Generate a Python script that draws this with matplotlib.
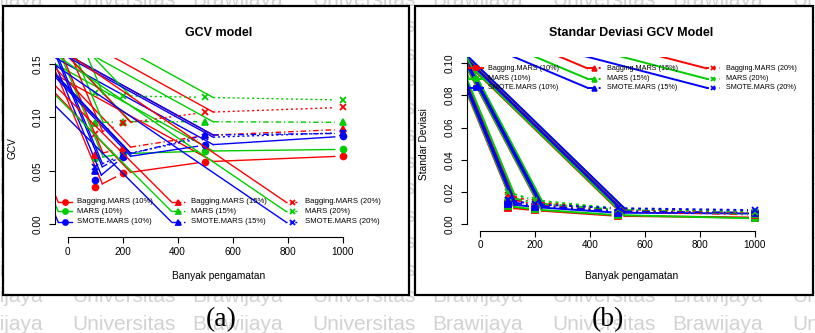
import numpy as np
import matplotlib.pyplot as plt
from matplotlib.patches import Rectangle

plt.rcParams['font.family'] = ['Liberation Sans', 'DejaVu Sans']

n_obs = [100, 200, 500, 1000]
x_ticks = [0, 200, 400, 600, 800, 1000]

# GCV model
gcv_bagging_10 = [0.0344, 0.0475, 0.0584, 0.0637]
gcv_mars_10 = [0.0616, 0.0660, 0.0684, 0.0700]
gcv_smote_10 = [0.0412, 0.0625, 0.0740, 0.0822]
gcv_bagging_15 = [0.0650, 0.0710, 0.0830, 0.0887]
gcv_mars_15 = [0.0950, 0.0960, 0.0959, 0.0953]
gcv_smote_15 = [0.0500, 0.0640, 0.0834, 0.0850]
gcv_bagging_20 = [0.0840, 0.0944, 0.1047, 0.1093]
gcv_mars_20 = [0.1225, 0.1200, 0.1187, 0.1162]
gcv_smote_20 = [0.0535, 0.0650, 0.0812, 0.0855]

# standar deviasi GCV
sd_bagging_10 = [0.0102, 0.0085, 0.0050, 0.0040]
sd_mars_10 = [0.0112, 0.0090, 0.0055, 0.0035]
sd_smote_10 = [0.0125, 0.0105, 0.0070, 0.0065]
sd_bagging_15 = [0.0160, 0.0120, 0.0080, 0.0058]
sd_mars_15 = [0.0170, 0.0130, 0.0088, 0.0062]
sd_smote_15 = [0.0140, 0.0112, 0.0078, 0.0070]
sd_bagging_20 = [0.0180, 0.0138, 0.0092, 0.0072]
sd_mars_20 = [0.0198, 0.0148, 0.0096, 0.0076]
sd_smote_20 = [0.0150, 0.0122, 0.0098, 0.0086]

methods = ['Bagging.MARS', 'MARS', 'SMOTE.MARS']
persen = ['10%', '15%', '20%']
colors = ['#ff0000', '#00cd00', '#0000ff']
styles = ['-', (0, (4, 2, 1, 2)), (0, (1.5, 2))]

gcv = [[gcv_bagging_10, gcv_mars_10, gcv_smote_10],
       [gcv_bagging_15, gcv_mars_15, gcv_smote_15],
       [gcv_bagging_20, gcv_mars_20, gcv_smote_20]]
sd = [[sd_bagging_10, sd_mars_10, sd_smote_10],
      [sd_bagging_15, sd_mars_15, sd_smote_15],
      [sd_bagging_20, sd_mars_20, sd_smote_20]]

W, H = 815, 333


def fx(x):
    return x / W


def fy(y):
    return 1 - y / H


fig = plt.figure(figsize=(W / 100, H / 100), dpi=100)

# watermark
for k in range(14):
    for m in range(-1, 4):
        fig.text(fx(72 + 240 * m), fy(27 * k), 'Universitas', fontsize=15,
                 color='#d2d2d2', ha='left', va='center', zorder=0.5)
        fig.text(fx(192 + 240 * m), fy(27 * k), 'Brawijaya', fontsize=15,
                 color='#d2d2d2', ha='left', va='center', zorder=0.5)

for x0, x1 in [(3, 409), (415, 813)]:
    fig.patches.append(Rectangle((fx(x0), fy(295)), (x1 - x0) / W, 289 / H,
                                 transform=fig.transFigure, fc='white',
                                 ec='black', lw=1.6, zorder=1))


def draw_series(ax, ys, color, ls, marker, lw, ms, gap, slopes):
    pts = ax.transData.transform(np.column_stack([n_obs, ys]))
    inv = ax.transData.inverted()
    for k in range(len(pts) - 1):
        d = pts[k + 1] - pts[k]
        u = d / np.hypot(d[0], d[1])
        s = pts[k] + u * gap
        e = pts[k + 1] - u * gap
        g = s + np.array([-1.0, slopes[k]]) * 3000
        seg = inv.transform(np.array([s, e]))
        ghost = inv.transform(np.array([g, s]))
        ax.plot(ghost[:, 0], ghost[:, 1], color=color, lw=lw)
        ax.plot(seg[:, 0], seg[:, 1], color=color, lw=lw, linestyle=ls)
    ax.plot(n_obs, ys, linestyle='none', marker=marker, color=color, ms=ms,
            mew=1.3)


def draw_legend(ax, col_x, row_y, markers, lw, ms, fs, slopes):
    inv = ax.transData.inverted()
    for c in range(3):
        for r in range(3):
            m = ax.transAxes.transform((col_x[c], row_y[r]))
            s = m + np.array([-7.0, 0])
            e = m + np.array([7.0, 0])
            g = s + np.array([-1.0, slopes[c]]) * 3000
            seg = inv.transform(np.array([s, e]))
            ghost = inv.transform(np.array([g, s]))
            ax.plot(ghost[:, 0], ghost[:, 1], color=colors[r], lw=lw)
            ax.plot(seg[:, 0], seg[:, 1], color=colors[r], lw=lw,
                    linestyle=styles[c])
            mp = inv.transform(m)
            ax.plot(mp[0], mp[1], marker=markers[c], color=colors[r], ms=ms,
                    mew=1.3)
            tp = inv.transform(m + np.array([12.5, 0]))
            ax.text(tp[0], tp[1], methods[r] + ' (' + persen[c] + ')',
                    fontsize=fs, ha='left', va='center')


def style_axes(ax, yticks, ylabels):
    for side in ['top', 'right']:
        ax.spines[side].set_visible(False)
    ax.spines['left'].set_bounds(yticks[0], yticks[-1])
    ax.spines['bottom'].set_bounds(0, 1000)
    for side in ['left', 'bottom']:
        ax.spines[side].set_linewidth(0.8)
    ax.set_xticks(x_ticks)
    ax.set_xticklabels([str(t) for t in x_ticks])
    ax.set_yticks(yticks)
    ax.set_yticklabels(ylabels, rotation=90, va='center')
    ax.tick_params(direction='out', length=4, width=0.8, labelsize=7.2)
    ax.tick_params(axis='x', pad=3)
    ax.tick_params(axis='y', pad=5)
    ax.patch.set_alpha(0)
    ax.set_zorder(2)


# panel (a)
axL = fig.add_axes([fx(55.3), fy(237), 298.4 / W, 179.5 / H])
axL.set_xlim(-45, 1040)
axL.set_ylim(-0.012, 0.156)
style_axes(axL, [0, 0.05, 0.10, 0.15], ['0.00', '0.05', '0.10', '0.15'])
gcv_markers = ['o', '^', 'x']
for p in range(3):
    for j in range(3):
        draw_series(axL, gcv[p][j], colors[j], styles[p], gcv_markers[p],
                    1.0, 4.2, 8, [2.4, 1.05, 0.55])
draw_legend(axL, [0.0325, 0.4119, 0.7946], [0.1967, 0.1448, 0.0852],
            gcv_markers, 1.0, 3.6, 5.6, [2.4, 1.0, 0.68])

# panel (b)
axR = fig.add_axes([fx(466.8), fy(230.7), 299.2 / W, 173.3 / H])
axR.set_xlim(-48, 1040)
axR.set_ylim(-0.0042, 0.1037)
style_axes(axR, [0, 0.02, 0.04, 0.06, 0.08, 0.10],
           ['0.00', '0.02', '0.04', '0.06', '0.08', '0.10'])
sd_markers = ['s', '^', 'x']
for p in range(3):
    for j in range(3):
        draw_series(axR, sd[p][j], colors[j], styles[p], sd_markers[p],
                    1.4, 4.0, 7, [2.43, 1.9, 0.97])
draw_legend(axR, [0.0307, 0.4262, 0.8239], [0.937, 0.877, 0.825],
            sd_markers, 1.4, 3.4, 5.2, [2.43, 0.42, 0.26])

# titles and labels
fig.text(fx(219), fy(33), 'GCV model', fontsize=9, fontweight='bold',
         ha='center', va='center', zorder=3)
fig.text(fx(631), fy(33), 'Standar Deviasi GCV Model', fontsize=9,
         fontweight='bold', ha='center', va='center', zorder=3)
fig.text(fx(219), fy(276), 'Banyak pengamatan', fontsize=7.3,
         ha='center', va='center', zorder=3)
fig.text(fx(632), fy(276), 'Banyak pengamatan', fontsize=7.3,
         ha='center', va='center', zorder=3)
fig.text(fx(13), fy(148), 'GCV', fontsize=7.3, rotation=90,
         ha='center', va='center', zorder=3)
fig.text(fx(424), fy(144), 'Standar Deviasi', fontsize=7.3, rotation=90,
         ha='center', va='center', zorder=3)

fig.text(fx(221), fy(320), '(a)', fontsize=20, family='Liberation Serif',
         ha='center', va='center', zorder=3)
fig.text(fx(608), fy(320), '(b)', fontsize=20, family='Liberation Serif',
         ha='center', va='center', zorder=3)

fig.savefig('out.png', dpi=100)
